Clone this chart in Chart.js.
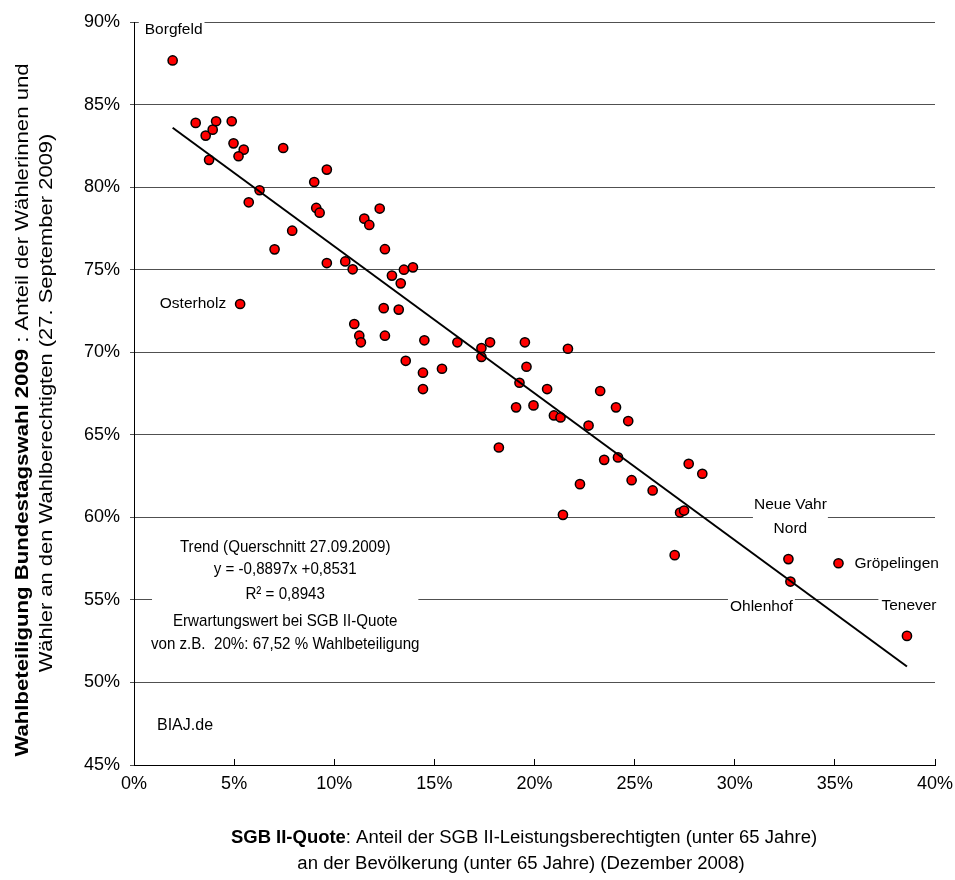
<!DOCTYPE html>
<html>
<head>
<meta charset="utf-8">
<script src="https://cdn.jsdelivr.net/npm/chart.js@4.4.1/dist/chart.umd.min.js"></script>
<style>
  html, body { margin: 0; padding: 0; background: #ffffff; }
  #wrap { width: 955px; height: 880px; }
</style>
</head>
<body>
<div id="wrap"><canvas id="chart" width="955" height="880"></canvas></div>
<script>
// SGB II-Quote (Dezember 2008) je Ortsteil, in Prozent
const sgbQuote = [
  1.93, 3.08, 3.58, 3.93, 4.10, 3.75, 4.88, 4.97, 5.48, 5.22,
  7.45, 6.27, 5.73, 7.90, 7.02, 9.00, 9.63, 9.10, 9.27, 9.63,
  10.55, 10.92, 11.50, 11.75, 12.27, 12.53, 12.88, 13.32, 13.48, 13.93,
  5.30, 12.47, 13.22, 11.00, 11.25, 11.33, 12.53, 14.50, 13.57, 14.43,
  14.43, 15.38, 16.15, 17.35, 17.35, 17.78, 19.52, 21.67, 19.60, 19.25,
  20.63, 19.08, 19.95, 20.97, 21.30, 22.70, 23.28, 24.07, 24.68, 18.22,
  21.42, 22.27, 23.48, 24.17, 24.85, 25.90, 27.70, 28.38, 27.27, 27.47,
  27.00, 32.68, 32.78, 35.18, 38.60
];

// Wahlbeteiligung Bundestagswahl 2009 je Ortsteil, in Prozent
const turnout = [
  87.67, 83.89, 83.12, 83.48, 83.99, 81.65, 83.99, 82.65, 82.27, 81.87,
  82.37, 79.81, 79.08, 77.36, 76.23, 80.31, 81.06, 78.74, 78.45, 75.40,
  75.50, 75.02, 78.09, 77.71, 78.70, 76.24, 74.64, 74.17, 75.00, 75.14,
  72.92, 72.67, 72.58, 71.71, 71.00, 70.60, 71.00, 70.72, 69.48, 68.76,
  67.77, 69.00, 70.60, 70.25, 69.71, 70.60, 70.60, 70.21, 69.12, 68.15,
  67.77, 66.66, 66.78, 66.17, 66.05, 65.56, 67.65, 66.66, 65.83, 64.23,
  60.15, 62.01, 63.48, 63.63, 62.25, 61.63, 63.24, 62.64, 60.29, 60.41,
  57.71, 57.47, 56.11, 57.22, 52.82
];

// Beschriftete Ortsteile und ihr Index in den Datenreihen
const labeledNames = ['Borgfeld', 'Osterholz', 'Neue Vahr Nord', 'Ohlenhof', 'Gröpelingen', 'Tenever'];
const labeledIndex = [0, 30, 71, 72, 73, 74];

// Achsen
const xTicks = [0, 5, 10, 15, 20, 25, 30, 35, 40];
const yTicks = [45, 50, 55, 60, 65, 70, 75, 80, 85, 90];

// Lineare Trendfunktion (Anteile, nicht Prozent)
const trendSlope = -0.8897;
const trendIntercept = 0.8531;
const trendInfo = [
  'Trend (Querschnitt 27.09.2009)',
  'y = -0,8897x +0,8531',
  'R² = 0,8943',
  'Erwartungswert bei SGB II-Quote',
  'von z.B.  20%: 67,52 % Wahlbeteiligung'
];

const FONT = '"Liberation Sans", Arial, Helvetica, sans-serif';

const points = sgbQuote.map((x, i) => ({ x: x, y: turnout[i] }));
const trendX = [Math.min(...sgbQuote), Math.max(...sgbQuote)];
const trendLine = trendX.map(x => ({ x: x, y: (trendSlope * x / 100 + trendIntercept) * 100 }));

// Draw a text string, optionally stretched along its direction
function stretchedText(ctx, parts, cx, cy, sx, rotate) {
  ctx.save();
  ctx.translate(cx, cy);
  if (rotate) ctx.rotate(-Math.PI / 2);
  ctx.scale(sx, 1);
  ctx.textBaseline = 'middle';
  ctx.textAlign = 'left';
  let total = 0;
  const widths = parts.map(p => { ctx.font = p.font; const w = ctx.measureText(p.text).width; total += w; return w; });
  let x = -total / 2;
  parts.forEach((p, i) => {
    ctx.font = p.font;
    ctx.fillStyle = '#000';
    ctx.fillText(p.text, x, 0);
    x += widths[i];
  });
  ctx.restore();
}

// Placement of district names relative to their marker
const labelPlacement = {
  'Borgfeld':       { dx: 1,   dy: -31, align: 'center', padL: 6,  padR: 2 },
  'Osterholz':      { dx: -14, dy: 0,   align: 'right',  padL: 2,  padR: 2 },
  'Neue Vahr Nord': { dx: 2,   dy: -42, align: 'center', padL: 1,  padR: 1, lines: ['Neue Vahr', 'Nord'] },
  'Ohlenhof':       { dx: -29, dy: 25,  align: 'center', padL: 2,  padR: 2 },
  'Gröpelingen':    { dx: 16,  dy: 0,   align: 'left',   padL: 2,  padR: 2 },
  'Tenever':        { dx: 2,   dy: -30, align: 'center', padL: 3,  padR: 6 }
};

const annotations = {
  id: 'annotations',
  beforeDatasetsDraw(chart) {
    const ctx = chart.ctx;
    const xs = chart.scales.x, ys = chart.scales.y;
    ctx.save();

    // district names on white boxes
    ctx.font = '15.5px ' + FONT;
    ctx.textBaseline = 'middle';
    labeledNames.forEach((name, k) => {
      const i = labeledIndex[k];
      const p = labelPlacement[name];
      const px = xs.getPixelForValue(sgbQuote[i]);
      const py = ys.getPixelForValue(turnout[i]);
      const lines = p.lines || [name];
      const lh = 24;
      const cy = py + p.dy;
      const top = cy - (lines.length - 1) * lh / 2;
      let maxW = 0;
      lines.forEach(t => { maxW = Math.max(maxW, ctx.measureText(t).width); });
      const ax = px + p.dx;
      const left = p.align === 'center' ? ax - maxW / 2 : (p.align === 'right' ? ax - maxW : ax);
      ctx.fillStyle = '#fff';
      ctx.fillRect(left - p.padL, top - 10, maxW + p.padL + p.padR, (lines.length - 1) * lh + 20);
      ctx.fillStyle = '#000';
      ctx.textAlign = p.align;
      lines.forEach((t, j) => ctx.fillText(t, ax, top + j * lh));
    });

    // trend description box
    const boxL = xs.getPixelForValue(0.9), boxR = xs.getPixelForValue(14.2);
    const boxCx = (boxL + boxR) / 2;
    const boxT = ys.getPixelForValue(57.0), boxB = ys.getPixelForValue(51.5);
    ctx.fillStyle = '#fff';
    ctx.fillRect(boxL, boxT, boxR - boxL, boxB - boxT);
    const rowY = [546, 568, 593, 620, 643];
    trendInfo.forEach((t, j) => {
      stretchedText(ctx, [{ text: t, font: '17px ' + FONT }], boxCx, rowY[j] + 1, 0.89, false);
    });

    // source
    ctx.font = '16px ' + FONT;
    ctx.fillStyle = '#000';
    ctx.textAlign = 'left';
    ctx.textBaseline = 'middle';
    ctx.fillText('BIAJ.de', 157, 726);
    ctx.restore();
  },
  afterDraw(chart) {
    const ctx = chart.ctx;
    // y axis title
    stretchedText(ctx, [
      { text: 'Wahlbeteiligung Bundestagswahl 2009', font: 'bold 18px ' + FONT },
      { text: ' : Anteil der Wählerinnen und', font: '18px ' + FONT }
    ], 23, 410, 1.23, true);
    stretchedText(ctx, [
      { text: 'Wähler an den Wahlberechtigten (27. September 2009)', font: '18px ' + FONT }
    ], 47, 403, 1.22, true);
    // x axis title
    stretchedText(ctx, [
      { text: 'SGB II-Quote', font: 'bold 18px ' + FONT },
      { text: ': Anteil der SGB II-Leistungsberechtigten (unter 65 Jahre)', font: '18px ' + FONT }
    ], 524, 838, 1.026, false);
    stretchedText(ctx, [
      { text: 'an der Bevölkerung (unter 65 Jahre) (Dezember 2008)', font: '18px ' + FONT }
    ], 521, 864, 1.03, false);
  }
};

new Chart(document.getElementById('chart'), {
  type: 'scatter',
  data: {
    datasets: [
      {
        type: 'line',
        data: trendLine,
        borderColor: '#000',
        borderWidth: 2,
        pointRadius: 0,
        fill: false,
        order: 0
      },
      {
        data: points,
        backgroundColor: '#ff0000',
        borderColor: '#000',
        borderWidth: 1.5,
        pointRadius: 4.6,
        order: 1
      }
    ]
  },
  options: {
    responsive: false,
    animation: false,
    events: [],
    layout: { padding: { top: 22, right: 0, left: 0, bottom: 0 } },
    plugins: { legend: { display: false }, tooltip: { enabled: false } },
    scales: {
      x: {
        type: 'linear',
        min: xTicks[0],
        max: xTicks[xTicks.length - 1],
        afterBuildTicks: s => { s.ticks = xTicks.map(v => ({ value: v })); },
        afterFit: s => { s.height = 115; s.paddingRight = 20; s.paddingLeft = 0; },
        grid: { display: true, drawOnChartArea: false, tickLength: -6, color: '#000', lineWidth: 1 },
        border: { display: true, color: '#000', width: 1 },
        ticks: {
          padding: 14,
          color: '#000',
          font: { family: FONT, size: 18 },
          maxRotation: 0,
          callback: v => v + '%'
        }
      },
      y: {
        type: 'linear',
        min: yTicks[0],
        max: yTicks[yTicks.length - 1],
        afterBuildTicks: s => { s.ticks = yTicks.map(v => ({ value: v })); },
        afterFit: s => { s.width = 134; },
        grid: { display: true, drawOnChartArea: true, tickLength: 4, color: '#505050', lineWidth: 1 },
        border: { display: true, color: '#000', width: 1 },
        ticks: {
          padding: 10,
          color: '#000',
          font: { family: FONT, size: 18 },
          callback: v => v + '%'
        }
      }
    }
  },
  plugins: [annotations]
});
</script>
</body>
</html>
